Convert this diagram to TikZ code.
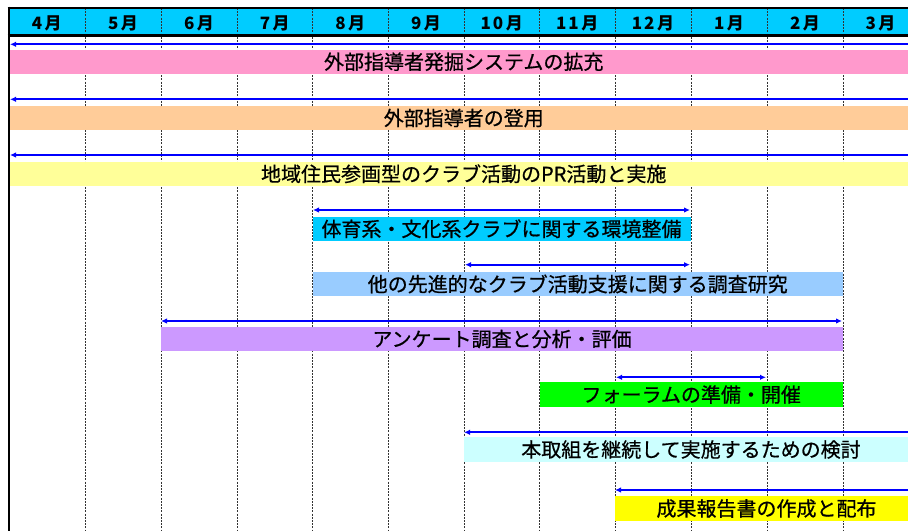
\documentclass[tikz,border=0pt]{standalone}
\usepackage{fontspec}
\setmainfont{Noto Sans CJK JP}
\newfontfamily\barfont[FakeBold=0.6]{Noto Sans CJK JP}
\usetikzlibrary{arrows.meta}
\definecolor{hdr}{HTML}{00CCFF}
\definecolor{cpink}{HTML}{FF99CC}
\definecolor{cpeach}{HTML}{FFCC99}
\definecolor{clyel}{HTML}{FFFF99}
\definecolor{ccyan}{HTML}{00CCFF}
\definecolor{clblue}{HTML}{99CCFF}
\definecolor{cpurp}{HTML}{CC99FF}
\definecolor{cgreen}{HTML}{00FF00}
\definecolor{clcyan}{HTML}{CCFFFF}
\definecolor{cyel}{HTML}{FFFF00}
\begin{document}
\begin{tikzpicture}[x=1pt,y=-1pt,
  bar/.style={rectangle, inner sep=0pt, minimum height=24.5pt, font=\barfont\fontsize{20}{20}\selectfont, text=black},
  gridline/.style={black!80, line width=0.8pt, dash pattern=on 2pt off 1.2pt},
  span/.style={blue, line width=2.2pt},
  tipboth/.style={span, {Latex[length=6pt,width=5.5pt]}-{Latex[length=6pt,width=5.5pt]}},
  tipleft/.style={span, {Latex[length=6pt,width=5.5pt]}-},
  mon/.style={font=\bfseries\fontsize{17}{17}\selectfont, inner sep=0pt}]
\useasboundingbox (0,0) rectangle (908,531);
\clip (0,0) rectangle (908,531);
\fill[white] (0,0) rectangle (908,531);
% header
\fill[hdr] (8.5,8) rectangle (918,36);
% grid lines
\foreach \x in {85,161,237,312.5,388,464,539.5,615,691,767,843}
  \draw[gridline] (\x,8) -- (\x,531);
% month labels
\node[mon] (m4) at (46.75,23.5) {4\hspace{2.5pt}月};
\node[mon] (m5) at (123,23.5) {5\hspace{2.5pt}月};
\node[mon] (m6) at (199,23.5) {6\hspace{2.5pt}月};
\node[mon] (m7) at (274.75,23.5) {7\hspace{2.5pt}月};
\node[mon] (m8) at (350.25,23.5) {8\hspace{2.5pt}月};
\node[mon] (m9) at (426,23.5) {9\hspace{2.5pt}月};
\node[mon] (m10) at (501.75,23.5) {1\hspace{2pt}0\hspace{2.5pt}月};
\node[mon] (m11) at (577.25,23.5) {1\hspace{2pt}1\hspace{2.5pt}月};
\node[mon] (m12) at (653,23.5) {1\hspace{2pt}2\hspace{2.5pt}月};
\node[mon] (m1) at (729,23.5) {1\hspace{2.5pt}月};
\node[mon] (m2) at (805,23.5) {2\hspace{2.5pt}月};
\node[mon] (m3) at (880.5,23.5) {3\hspace{2.5pt}月};
% frame
\draw[line width=2pt] (7.5,7.5) -- (918,7.5);
\draw[line width=2.5pt] (7.5,35.5) -- (918,35.5);
\draw[line width=2pt] (8.5,6.5) -- (8.5,531);
% bars
\node[bar, fill=cpink, minimum width=908.5pt] (b1) at (463.75,61.75) {外部指導者発掘システムの拡充};
\node[bar, fill=cpeach, minimum width=908.5pt] (b2) at (463.75,118) {外部指導者の登用};
\node[bar, fill=clyel, minimum width=908.5pt] (b3) at (463.75,173.75) {地域住民参画型のクラブ活動のPR活動と実施};
\node[bar, fill=ccyan, minimum width=378pt] (b4) at (501.5,228.75) {体育系・文化系クラブに関する環境整備};
\node[bar, fill=clblue, minimum width=530.5pt] (b5) at (577.75,284) {他の先進的なクラブ活動支援に関する調査研究};
\node[bar, fill=cpurp, minimum width=682pt] (b6) at (502,339) {アンケート調査と分析・評価};
\node[bar, fill=cgreen, minimum width=303.5pt] (b7) at (691.25,394.5) {フォーラムの準備・開催};
\node[bar, fill=clcyan, minimum width=454pt] (b8) at (691,449.5) {本取組を継続して実施するための検討};
\node[bar, fill=cyel, minimum width=303pt] (b9) at (766.5,508.5) {成果報告書の作成と配布};
% arrow end points
\coordinate (a1l) at (10,44.3);   \coordinate (a1r) at (918,44.3);
\coordinate (a2l) at (10,99.3);   \coordinate (a2r) at (918,99.3);
\coordinate (a3l) at (10,155);    \coordinate (a3r) at (918,155);
\coordinate (a4l) at (313,210);   \coordinate (a4r) at (690,210);
\coordinate (a5l) at (465,264.7); \coordinate (a5r) at (690,264.7);
\coordinate (a6l) at (161,321);   \coordinate (a6r) at (842,321);
\coordinate (a7l) at (616,377.3); \coordinate (a7r) at (766,377.3);
\coordinate (a8l) at (464,432.3); \coordinate (a8r) at (918,432.3);
\coordinate (a9l) at (615,490);   \coordinate (a9r) at (918,490);
\draw[tipleft] (a1l) -- (a1r);
\draw[tipleft] (a2l) -- (a2r);
\draw[tipleft] (a3l) -- (a3r);
\draw[tipboth] (a4l) -- (a4r);
\draw[tipboth] (a5l) -- (a5r);
\draw[tipboth] (a6l) -- (a6r);
\draw[tipboth] (a7l) -- (a7r);
\draw[tipleft] (a8l) -- (a8r);
\draw[tipleft] (a9l) -- (a9r);
\end{tikzpicture}
\end{document}
